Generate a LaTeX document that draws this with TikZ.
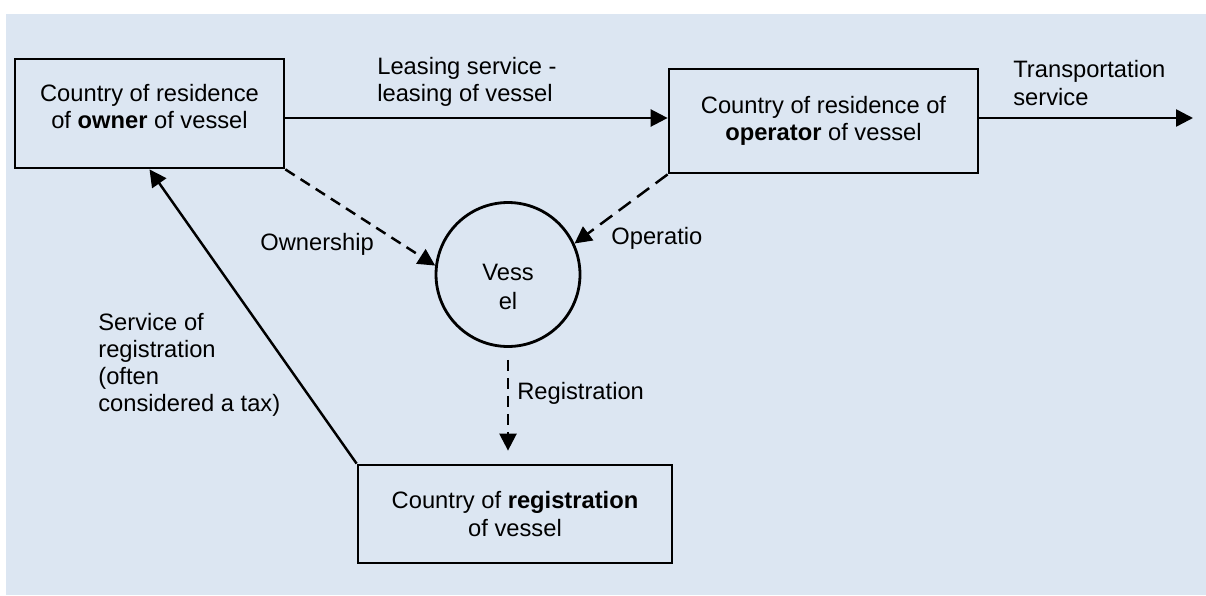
\documentclass[tikz,border=0pt]{standalone}
\usepackage{fontspec}
\setmainfont{Liberation Sans}
\usetikzlibrary{arrows.meta}
\definecolor{panel}{HTML}{DCE6F2}
\tikzset{
  box/.style={draw, line width=1.6pt, align=center, inner sep=2pt},
  flow/.style={line width=1.4pt, -{Triangle[length=0.34cm,width=0.34cm]}},
  link/.style={flow, dash pattern=on 0.22cm off 0.14cm},
  lab/.style={anchor=west, align=left, inner sep=0pt}
}
\begin{document}
\begin{tikzpicture}[x=0.02cm, y=-0.02cm, font=\fontsize{13.5}{15.5}\selectfont]
  \useasboundingbox (0,0) rectangle (1206,595);
  \fill[panel] (6,14) rectangle (1206,595);
  % countries and vessel
  \node[box, minimum width=5.38cm, minimum height=2.18cm] (owner) at (149.5,113.5) {Country of residence\\of \textbf{owner} of vessel\rule[-8pt]{0pt}{8pt}};
  \node[box, minimum width=6.18cm, minimum height=2.08cm] (oper) at (823.5,121) {Country of residence of\\\textbf{operator} of vessel};
  \node[box, minimum width=6.28cm, minimum height=1.96cm] (reg) at (515,514) {Country of \textbf{registration}\\of vessel};
  \node[draw, circle, line width=1.6pt, minimum size=2.88cm, inner sep=0pt, align=center] (vessel) at (508,274.5) {\rule{0pt}{24pt}Vess\\[1pt]el};
  \coordinate (lease) at (0,118);
  \coordinate (tip) at (1193,118);
  % services
  \draw[flow] (owner.east |- lease) -- (oper.west |- lease);
  \draw[flow] (oper.east |- tip) -- (tip);
  \draw[flow] (reg.north west) -- (owner.south);
  % links to the vessel
  \draw[link] (owner.south east) -- (vessel.173);
  \draw[link, dash pattern=on 0.3cm off 0.16cm] (oper.south west) -- (vessel.25);
  \draw[link, shorten <=0.24cm, shorten >=0.26cm] (vessel.south) -- (vessel.south |- reg.north);
  % labels
  \node[lab] (leaselab) at (377,82) {Leasing service -\\leasing of vessel};
  \node[lab] (translab) at (1013,83) {Transportation\\service};
  \node[lab] (ownlab) at (260,244) {Ownership};
  \node[lab] (oplab) at (611,238) {Operatio};
  \node[lab] (reglab) at (517,393) {Registration};
  \node[lab] (servlab) at (98,365) {Service of\\registration\\(often\\considered a tax)};
\end{tikzpicture}
\end{document}
